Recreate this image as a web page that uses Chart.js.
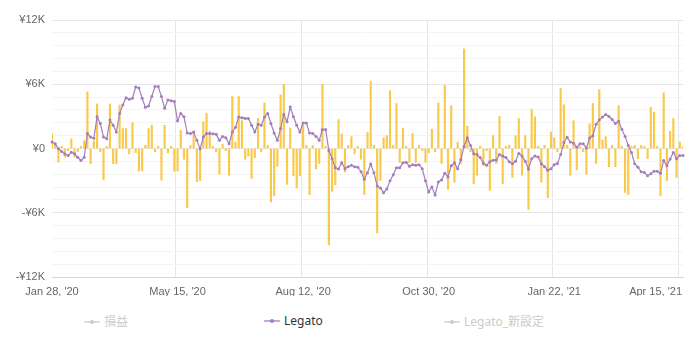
<!DOCTYPE html>
<html>
<head>
    <meta charset="utf-8">
    <title>Legato</title>
    <script src="https://cdn.jsdelivr.net/npm/chart.js"></script>
    <style>
        body { margin: 0; background: #fff; }
        #wrap { position: relative; width: 690px; height: 346px; }
        #box { position: absolute; left: 0; top: 0; width: 690px; height: 296px; }
        #legend { position: absolute; left: 0; top: 312px; width: 690px; height: 16px; }
        .item { position: absolute; top: 0; height: 16px; line-height: 16px; font: 12px "Noto Sans", "Noto Sans CJK JP", sans-serif; white-space: nowrap; }
        .item svg { vertical-align: middle; margin-right: 4px; position: relative; top: -1px; }
    </style>
</head>
<body>
<div id="wrap">
    <div id="box"><canvas id="chart"></canvas></div>
    <div id="legend"></div>
</div>

<script>
    // values in thousands of yen, one per trading day
    var dailyPnlK = [
        1.4, 0.3, -1.27, 0.2, -0.8, -0.2, 0.9, -0.8, -0.3, 0.2,
        0.73, 5.3, -1.42, 0.7, 4.16, -0.3, -2.93, 0.2, 4.16, -1.42,
        -1.42, 4.06, 1.86, 1.86, -0.5, 2.4, -0.4, -2.1, -2.1, 0.3,
        1.86, 2.17, -0.3, 0.2, -2.96, 2.17, -0.4, 0.2, -2.1, -2.1,
        1.7, -1.0, -5.52, 0.3, 1.4, -3.1, -3.0, 2.5, 3.3, 1.6,
        0.2, -0.3, -2.4, 0.4, -0.2, -2.5, 4.85, 0.6, 4.85, 2.6,
        -1.0, -0.7, -2.8, -0.85, 2.8, -0.3, 4.25, 0.3, -5.0, -4.4,
        -1.65, 5.0, 6.0, -3.35, 1.9, -2.55, -3.7, -2.55, 2.2, 0.3,
        -4.3, 0.3, -1.9, -1.4, 6.0, 0.2, -9.0, -4.0, -3.4, 2.7,
        1.35, -2.2, 0.3, 1.1, -0.5, 0.2, -1.0, -4.3, 1.5, 6.3,
        0.3, -7.9, -3.0, 1.0, 1.2, 5.4, 0.3, 4.2, -1.3, 1.9,
        0.2, -1.3, 1.4, -1.3, 0.3, -0.2, -1.3, -0.4, 1.8, -0.3,
        4.25, -1.4, 5.9, -3.8, 4.0, -3.15, 0.6, -1.4, 9.3, 2.1,
        -0.3, -3.3, -2.5, 0.2, -1.6, -0.2, -3.9, 1.2, -1.4, 3.0,
        -3.3, 0.2, 0.3, -2.7, 1.2, 2.8, -2.5, 1.2, -5.7, 3.65,
        2.96, 0.2, -3.15, 0.3, -4.6, 1.55, 1.0, -0.3, 5.6, 4.06,
        0.3, -2.5, 2.6, -2.0, 0.2, -0.3, -2.4, 2.3, 4.2, -1.4,
        5.5, 0.8, 1.1, -1.7, 0.3, -1.7, 4.0, 0.2, -4.1, -4.3,
        0.2, 0.3, -0.95, 0.3, 0.2, -0.95, 3.85, 3.4, 0.2, -4.4,
        5.2, -3.0, 1.6, 2.8, -2.7, 0.6, 0.2
    ];

    var legatoK = [
        0.60, 0.44, -0.03, -0.28, -0.52, -0.66, -0.35, -0.50, -0.82, -1.13,
        -0.82, 1.39, 1.07, 0.95, 2.96, 2.33, 1.07, 0.92, 2.65, 2.17,
        1.54, 3.28, 4.06, 4.75, 4.60, 4.70, 5.74, 5.64, 4.70, 3.85,
        3.97, 4.85, 5.79, 5.79, 4.85, 3.75, 4.54, 4.47, 4.38, 2.58,
        3.28, 2.96, 1.45, 1.39, 1.54, 0.76, -0.03, 1.07, 1.39, 1.39,
        1.37, 1.32, 0.76, 1.13, 1.01, 0.44, 1.54, 1.98, 2.93, 2.88,
        2.81, 2.81, 2.17, 1.54, 2.27, 2.17, 2.93, 3.28, 2.33, 1.45,
        0.76, 1.86, 3.18, 2.49, 3.87, 2.96, 2.17, 1.54, 2.39, 2.39,
        1.45, 1.39, 1.13, 0.76, 1.77, 1.77, -0.19, -0.95, -1.80, -1.92,
        -1.32, -1.89, -1.70, -1.56, -1.70, -1.75, -2.17, -2.86, -2.27, -1.45,
        -2.27, -3.50, -3.69, -4.13, -3.78, -3.02, -2.46, -1.80, -1.80, -1.32,
        -1.29, -1.65, -1.51, -1.56, -1.51, -1.89, -3.02, -4.06, -3.59, -4.35,
        -3.12, -2.93, -2.32, -2.65, -1.61, -1.32, -1.89, -1.04, 0.19, 1.01,
        0.28, -0.50, -0.57, -0.85, -1.37, -1.56, -1.23, -1.09, -1.07, -0.57,
        -0.71, -0.85, -1.23, -1.42, -1.18, -0.47, -0.71, -1.18, -1.94, -0.95,
        -0.71, -0.80, -1.42, -1.70, -2.03, -1.89, -1.51, -1.39, -0.57, 0.57,
        1.04, 0.60, 0.50, 0.12, 0.44, 0.44, 0.05, 0.99, 1.18, 2.27,
        2.69, 2.93, 3.17, 2.98, 2.71, 2.33, 2.55, 1.80, 1.13, 0.28,
        -0.38, -1.42, -1.75, -2.17, -2.24, -2.55, -2.36, -2.13, -2.13, -2.32,
        -1.13, -1.61, -0.97, -0.38, -0.95, -0.66, -0.66
    ];

    var tickDates = ["Jan 28, '20", "May 15, '20", "Aug 12, '20", "Oct 30, '20", "Jan 22, '21", "Apr 15, '21"];
    var tickEvery = 39; // one date label every 39 points

    var seriesNames = ['損益', 'Legato', 'Legato_新設定'];
    var seriesShown = [false, true, false];

    var barColor = '#f8c94b';
    var lineColor = '#a37dbd';
    var offColor = '#cccccc';

    var categories = legatoK.map(function (v, i) {
        return i % tickEvery === 0 ? tickDates[i / tickEvery] : '';
    });

    function yen(v) {
        if (v === 0) return '¥0';
        return (v < 0 ? '-' : '') + '¥' + Math.abs(v) / 1000 + 'K';
    }

    // push the last date label inside the plot, right aligned
    var lastLabelRight = {
        id: 'lastLabelRight',
        beforeDraw: function (chart) {
            var items = chart.scales.x.getLabelItems();
            for (var k = items.length - 1; k >= 0; k--) {
                if (items[k].label) {
                    items[k].options.textAlign = 'right';
                    items[k].options.translation[0] = chart.chartArea.right - 1;
                    break;
                }
            }
        }
    };

    var ctx = document.getElementById('chart').getContext('2d');
    var chart = new Chart(ctx, {
        type: 'bar',
        data: {
            labels: categories,
            datasets: [
                {
                    type: 'line',
                    label: seriesNames[1],
                    data: legatoK.map(function (v) { return v * 1000; }),
                    borderColor: lineColor,
                    backgroundColor: lineColor,
                    borderWidth: 1.2,
                    pointRadius: 1.5,
                    pointBorderWidth: 0,
                    pointBackgroundColor: lineColor,
                    tension: 0,
                    order: 0
                },
                {
                    label: 'daily',
                    data: dailyPnlK.map(function (v) { return v * 1000; }),
                    backgroundColor: barColor,
                    barThickness: 1.5,
                    order: 1
                }
            ]
        },
        options: {
            responsive: true,
            maintainAspectRatio: false,
            animation: false,
            layout: { padding: { top: 20, right: 7, left: 0, bottom: 0 } },
            plugins: {
                legend: { display: false },
                tooltip: { enabled: false }
            },
            scales: {
                x: {
                    offset: false,
                    grid: {
                        drawTicks: false,
                        color: function (c) {
                            return c.tick && c.tick.label ? '#e6e6e6' : 'rgba(0,0,0,0)';
                        }
                    },
                    border: { display: true, color: '#ccd6eb', width: 1 },
                    ticks: {
                        autoSkip: false,
                        maxRotation: 0,
                        padding: 8,
                        color: '#666666',
                        font: { family: 'Liberation Sans', size: 11 },
                        callback: function (val) {
                            return this.getLabelForValue(val);
                        }
                    },
                    afterFit: function (s) { s.paddingRight = 0; s.height = 19; }
                },
                y: {
                    min: -12000,
                    max: 12000,
                    afterFit: function (s) { s.width = 52; },
                    grid: {
                        drawTicks: false,
                        color: function (c) {
                            return Math.round(c.tick.value) % 6000 === 0 ? '#e6e6e6' : '#f4f4f4';
                        }
                    },
                    border: { display: false },
                    ticks: {
                        stepSize: 1200,
                        maxTicksLimit: 30,
                        autoSkip: false,
                        padding: 7,
                        color: '#666666',
                        font: { family: 'Liberation Sans', size: 11 },
                        callback: function (v) {
                            return Math.round(v) % 6000 === 0 ? yen(Math.round(v)) : '';
                        }
                    }
                }
            }
        },
        plugins: [lastLabelRight]
    });

    // legend drawn as html, fixed 180px item width like the original
    var legend = document.getElementById('legend');
    seriesNames.forEach(function (name, i) {
        var c = seriesShown[i] ? lineColor : offColor;
        var item = document.createElement('div');
        item.className = 'item';
        item.style.left = (84 + i * 180) + 'px';
        item.style.color = seriesShown[i] ? '#333333' : offColor;
        item.innerHTML = '<svg width="16" height="10"><line x1="0" y1="5" x2="16" y2="5" stroke="' + c +
            '" stroke-width="1.3"/><circle cx="8" cy="5" r="2" fill="' + c + '"/></svg>' + name;
        legend.appendChild(item);
    });
</script>
</body>
</html>
